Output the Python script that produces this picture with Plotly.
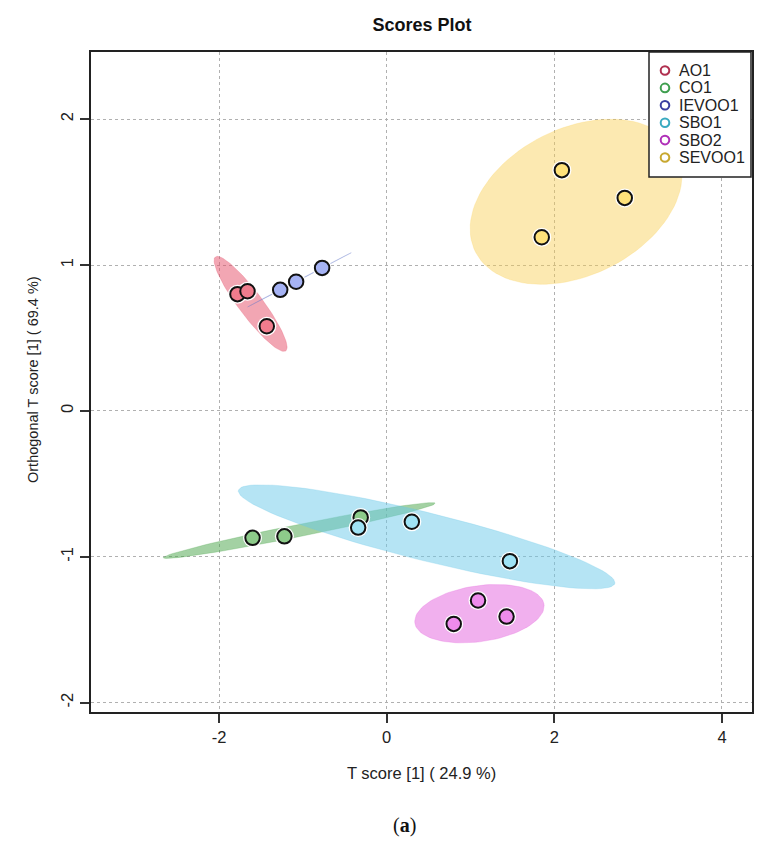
import numpy as np
import plotly.graph_objects as go

# ---- data ----
groups = ["AO1", "CO1", "IEVOO1", "SBO1", "SBO2", "SEVOO1"]
t_score = {
    "AO1":    [-1.78, -1.66, -1.43],
    "CO1":    [-1.60, -1.22, -0.31],
    "IEVOO1": [-1.27, -1.08, -0.77],
    "SBO1":   [-0.34, 0.30, 1.47],
    "SBO2":   [0.80, 1.09, 1.43],
    "SEVOO1": [1.85, 2.09, 2.84],
}
orth_score = {
    "AO1":    [0.80, 0.82, 0.58],
    "CO1":    [-0.87, -0.86, -0.73],
    "IEVOO1": [0.83, 0.885, 0.98],
    "SBO1":   [-0.80, -0.76, -1.03],
    "SBO2":   [-1.46, -1.30, -1.41],
    "SEVOO1": [1.19, 1.65, 1.46],
}
x_ticks = [-2, 0, 2, 4]
x_tick_labels = ["-2", "0", "2", "4"]
y_ticks = [-2, -1, 0, 1, 2]
y_tick_labels = ["-2", "-1", "0", "1", "2"]
x_title = "T score [1] ( 24.9 %)"
y_title = "Orthogonal T score [1] ( 69.4 %)"
title = "Scores Plot"
caption = "(<b>a</b>)"

# ---- styles ----
ell_fill = {
    "AO1": "rgba(229,77,103,0.5)",
    "CO1": "rgba(71,163,71,0.5)",
    "IEVOO1": "rgba(105,123,205,0.5)",
    "SBO1": "rgba(107,201,233,0.5)",
    "SBO2": "rgba(227,97,221,0.5)",
    "SEVOO1": "rgba(249,207,81,0.45)",
}
pt_fill = {
    "AO1": "#F07C8D",
    "CO1": "#8DCB8A",
    "IEVOO1": "#A6B3F4",
    "SBO1": "#9FE3F5",
    "SBO2": "#EE8BEC",
    "SEVOO1": "#FFE27A",
}
leg_col = {
    "AO1": "#B03050",
    "CO1": "#3F9F4F",
    "IEVOO1": "#3A3FA0",
    "SBO1": "#3AAAC0",
    "SBO2": "#B030B8",
    "SEVOO1": "#C8A830",
}


def conf_ellipse(x, y, level_t=2.4477, n=100):
    """ellipse::ellipse style 95% confidence ellipse"""
    x = np.asarray(x, float)
    y = np.asarray(y, float)
    cov = np.cov(np.vstack([x, y]))
    sx, sy = np.sqrt(cov[0, 0]), np.sqrt(cov[1, 1])
    r = cov[0, 1] / (sx * sy)
    r = max(min(r, 1.0), -1.0)
    d = np.arccos(r)
    a = np.linspace(0, 2 * np.pi, n)
    ex = level_t * sx * np.cos(a + d / 2) + x.mean()
    ey = level_t * sy * np.cos(a - d / 2) + y.mean()
    return ex, ey


fig = go.Figure()

for g in groups:
    ex, ey = conf_ellipse(t_score[g], orth_score[g])
    fig.add_trace(go.Scatter(x=ex, y=ey, mode="lines", fill="toself",
                             fillcolor=ell_fill[g], line=dict(width=0.5, color=ell_fill[g]),
                             hoverinfo="skip", showlegend=False))

for g in groups:
    fig.add_trace(go.Scatter(x=t_score[g], y=orth_score[g], mode="markers",
                             marker=dict(size=19, color="white", line=dict(width=0)),
                             hoverinfo="skip", showlegend=False))
    fig.add_trace(go.Scatter(x=t_score[g], y=orth_score[g], mode="markers", name=g,
                             marker=dict(size=14.5, color=pt_fill[g],
                                         line=dict(width=2, color="#111111")),
                             showlegend=False))

# ---- geometry: page pixels; the page body adds an 8px offset ----
OFF = 8
W, H = 774 - OFF, 854 - OFF
L, R, T, B = 91, 752, 52, 712   # plot area in page pixels
pw, ph = R - L, B - T


def px(xpix):
    return (xpix - L) / pw


def py(ypix):
    return (B - ypix) / ph


shapes = []
annotations = []
# manual legend box
shapes.append(dict(type="rect", xref="paper", yref="paper",
                   x0=px(649), x1=px(751), y0=py(177), y1=py(52),
                   line=dict(color="#222222", width=1.5), fillcolor="white", layer="above"))
for i, g in enumerate(groups):
    yc = 70.5 + 17.4 * i
    shapes.append(dict(type="circle", xref="paper", yref="paper",
                       x0=px(665 - 4.3), x1=px(665 + 4.3), y0=py(yc + 4.3), y1=py(yc - 4.3),
                       line=dict(color=leg_col[g], width=2), fillcolor="white", layer="above"))
    annotations.append(dict(text=g, xref="paper", yref="paper", x=px(677), y=py(yc),
                            xanchor="left", yanchor="middle", showarrow=False,
                            font=dict(family="Liberation Sans, Arial, sans-serif", size=16, color="#222222")))

annotations.append(dict(text=caption, xref="paper", yref="paper", x=px(404), y=py(825),
                        xanchor="center", yanchor="middle", showarrow=False,
                        font=dict(family="Liberation Serif, DejaVu Serif, serif", size=20, color="#111111")))

# axis titles as annotations for exact placement
annotations.append(dict(text=x_title, xref="paper", yref="paper", x=px(421), y=py(773),
                        xanchor="center", yanchor="middle", showarrow=False,
                        font=dict(family="Liberation Sans, Arial", size=16.5, color="#222222")))
annotations.append(dict(text=y_title, xref="paper", yref="paper", x=px(33), y=py(380),
                        xanchor="center", yanchor="middle", showarrow=False, textangle=-90,
                        font=dict(family="Liberation Sans, Arial", size=14.5, color="#222222")))

axis_common = dict(showline=True, mirror=True, linecolor="#222222", linewidth=2,
                   ticks="outside", ticklen=9, tickwidth=2, tickcolor="#333333",
                   showgrid=True, gridcolor="#B0B0B0", gridwidth=1, griddash="dot",
                   zeroline=False, automargin=False,
                   tickfont=dict(family="Liberation Sans, Arial", size=16.5, color="#222222"))

fig.update_layout(
    width=W, height=H,
    margin=dict(l=L - OFF, r=774 - R, t=T - OFF, b=854 - B),
    paper_bgcolor="white", plot_bgcolor="white",
    title=dict(text="<b>" + title + "</b>", x=(422 - OFF) / W, xanchor="center",
               y=1 - (25 - OFF) / H, yanchor="middle", automargin=False,
               font=dict(family="Liberation Sans, Arial", size=18, color="#111111")),
    xaxis=dict(axis_common, range=[-3.527, 4.358], tickvals=x_ticks, ticktext=x_tick_labels),
    yaxis=dict(axis_common, range=[-2.064, 2.46], tickvals=y_ticks, ticktext=y_tick_labels,
               tickangle=-90),
    shapes=shapes, annotations=annotations, showlegend=False,
)

fig.write_html("out.html")
